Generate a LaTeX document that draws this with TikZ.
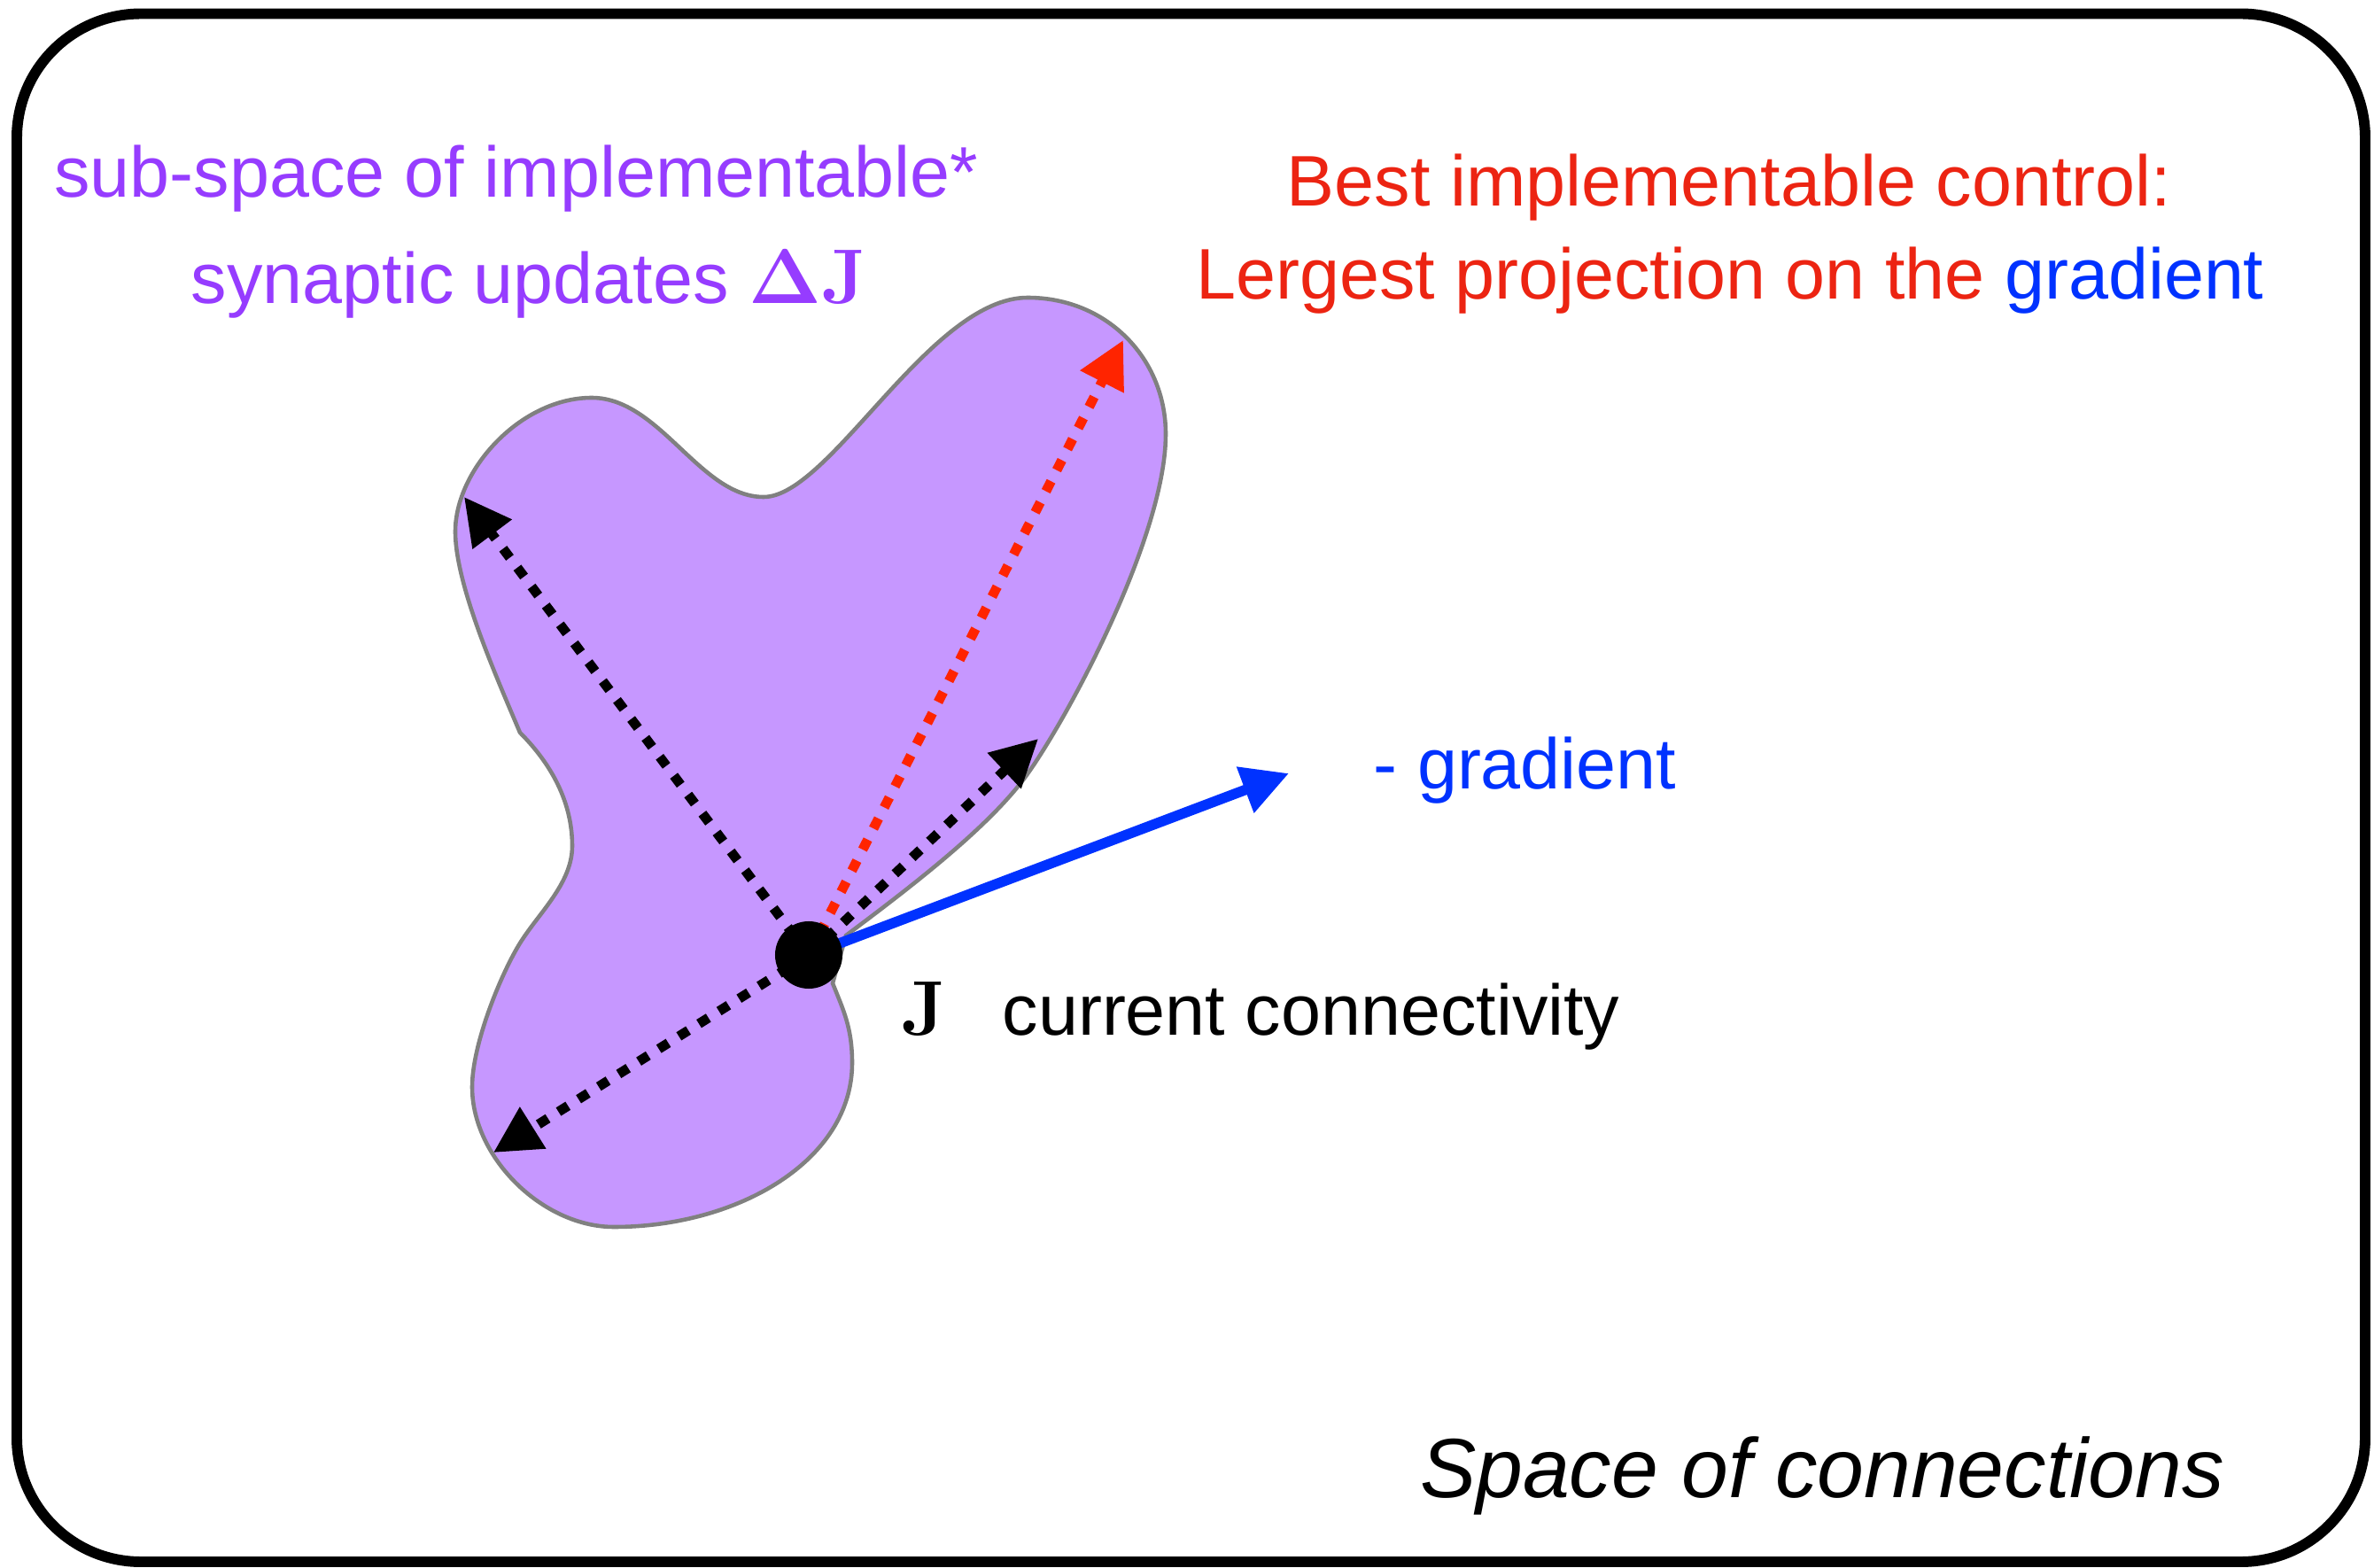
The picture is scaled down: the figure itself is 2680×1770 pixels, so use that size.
\documentclass[tikz,border=0pt]{standalone}
\usepackage[no-math]{fontspec}
\setmainfont{Liberation Sans}
\usetikzlibrary{arrows.meta}
\definecolor{subpurple}{RGB}{150,60,255}
\definecolor{blobfill}{RGB}{198,151,255}
\definecolor{blobline}{RGB}{128,128,128}
\definecolor{ctrlred}{RGB}{236,36,18}
\definecolor{arrowred}{RGB}{255,36,0}
\definecolor{gradblue}{RGB}{0,50,255}
\begin{document}
\begin{tikzpicture}[x=0.01cm,y=-0.01cm,
  txt/.style={inner sep=0pt, font=\fontsize{23}{28}\selectfont},
  tiphead/.style={-{Triangle[length=15pt,width=15pt]}},
  dottedarrow/.style={tiphead, line width=3.1pt, dash pattern=on 3.6pt off 4pt},
]
\useasboundingbox (0,0) rectangle (2680,1770);

% outer frame
\draw[line width=3.4pt, rounded corners=1.4cm] (19,15.5) rectangle (2670,1763);

% region of implementable updates
\path[fill=blobfill, draw=blobline, line width=1.3pt]
  (668,449) .. controls (745,449) and (790,561) .. (862,561)
  .. controls (937,561) and (1050,336) .. (1160,336)
  .. controls (1250,336) and (1316,405) .. (1316,490)
  .. controls (1316,610) and (1196,828) .. (1153,883)
  .. controls (1110,938) and (1030,1000) .. (955,1056)
  -- (940,1110)
  .. controls (952,1140) and (962,1160) .. (962,1200)
  .. controls (962,1310) and (833,1385) .. (693,1385)
  .. controls (613,1385) and (533,1307) .. (533,1227)
  .. controls (533,1177) and (568,1093) .. (590,1060)
  .. controls (612,1027) and (646,995) .. (646,955)
  .. controls (646,905) and (622,862) .. (587,827)
  .. controls (560,763) and (514,660) .. (514,600)
  .. controls (514,530) and (588,449) .. (668,449) -- cycle;

% base point and arrow ends
\coordinate (J0) at (913,1078);
\coordinate (tipUL) at (524,561);
\coordinate (tipBest) at (1268,384);
\coordinate (tipUR) at (1172,834);
\coordinate (tipDL) at (557,1301);
\coordinate (tipGrad) at (1455,873);

% candidate updates
\draw[dottedarrow, black] (J0) -- (tipUL);
\draw[dottedarrow, black] (J0) -- (tipUR);
\draw[dottedarrow, black] (J0) -- (tipDL);
\draw[dottedarrow, arrowred] (J0) -- (tipBest);

% negative gradient
\draw[tiphead, line width=3.3pt, gradblue] (J0) -- (tipGrad);

% current connectivity point
\node[circle, fill=black, inner sep=0pt, minimum size=0.76cm] (dot) at (J0) {};

% labels
\node[txt, text=subpurple, anchor=base] (subA) at (583,223) {sub-space of implementable*};
\node[txt, text=subpurple, anchor=base] (subB) at (597,343)
  {synaptic updates {\fontsize{25}{30}\selectfont$\mathbf{\Delta J}$}};

\node[txt, text=ctrlred, anchor=base] (ctrlA) at (1952,233) {Best implementable control:};
\node[txt, text=ctrlred, anchor=base] (ctrlB) at (1953,338)
  {Lergest projection on the \textcolor{gradblue}{gradient}};

\node[txt, text=gradblue, anchor=base west] (gradlbl) at (1550,890) {- gradient};

\node[inner sep=0pt, anchor=base west, font=\fontsize{25}{30}\selectfont] (Jlbl) at (1017,1169) {$\mathbf{J}$};
\node[txt, anchor=base west] (curlbl) at (1131,1169) {current connectivity};

\node[inner sep=0pt, anchor=base, font=\fontsize{27}{32}\selectfont\itshape] (spacelbl) at (2057,1690) {Space of connections};
\end{tikzpicture}
\end{document}
